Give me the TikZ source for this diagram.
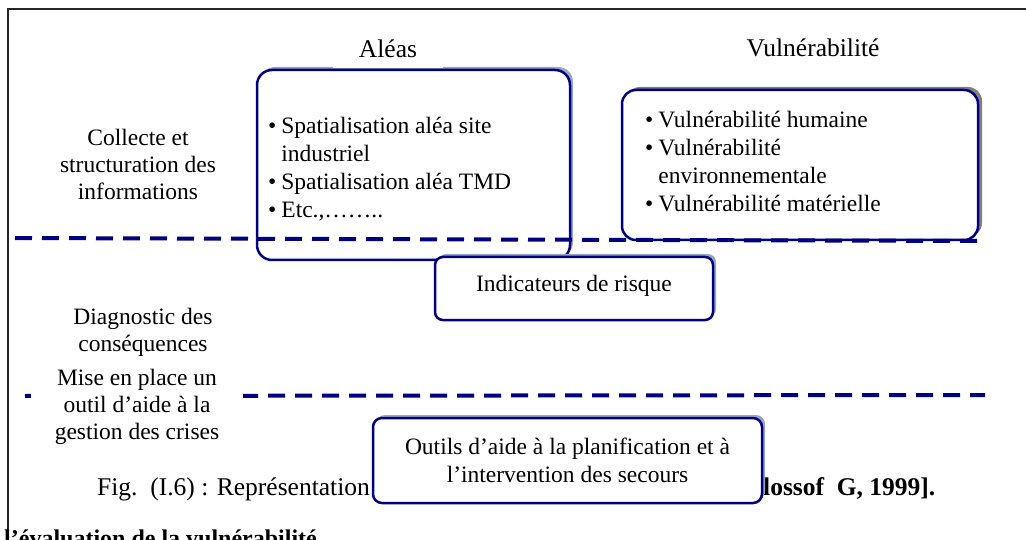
\documentclass[tikz,border=0pt]{standalone}
\usepackage{fontspec}
\setmainfont{Liberation Serif}
\usetikzlibrary{shadows}
\definecolor{navy}{RGB}{0,0,128}
\definecolor{shblue}{RGB}{152,167,190}
\definecolor{shgray}{RGB}{128,128,128}
\begin{document}
\begin{tikzpicture}[x=1pt,y=-1pt,
  box/.style={draw=navy, line width=2.5pt, fill=white, inner sep=0pt},
  shb/.style={general shadow={shadow xshift=3pt, shadow yshift=3pt, fill=shblue}},
  shg/.style={general shadow={shadow xshift=4pt, shadow yshift=3pt, fill=shgray}},
  body/.style={font=\fontsize{23.5}{28}\selectfont, inner sep=0pt},
  lbl/.style={font=\fontsize{23.5}{27}\selectfont, inner sep=0pt, align=center},
  head/.style={font=\fontsize{25.5}{30}\selectfont, inner sep=0pt},
  sepline/.style={draw=navy, line width=4pt, dash pattern=on 17pt off 10pt},
  frame/.style={draw=black!85, line width=1.5pt}
]
\useasboundingbox (0,0) rectangle (1026,540);
\fill[white] (0,0) rectangle (1026,540);
% frame
\coordinate (ftr) at (1040,9);
\coordinate (ftl) at (8,9);
\coordinate (fbl) at (8,545);
\draw[frame] (ftr) -- (ftl) -- (fbl);

% Aleas box
\node[box, shb, rounded corners=15pt, minimum width=313pt, minimum height=190pt] (aleasB) at (413.5,165) {};
\node[head, fill=white, minimum width=110pt, minimum height=40pt] (aleasT) at (388,48.3) {Aléas};
\node[body, anchor=west] (aleasL) at (268,170) {\begin{tabular}{@{}l@{\hspace{5pt}}l@{}}\textbullet & Spatialisation aléa site\\ & industriel\\ \textbullet & Spatialisation aléa TMD\\ \textbullet & Etc.,……..\end{tabular}};

% Vulnerabilite box
\node[box, shg, rounded corners=14pt, minimum width=356pt, minimum height=150pt] (vulnB) at (800,165) {};
\node[head] (vulnT) at (813,48.3) {Vulnérabilité};
\node[body, anchor=west] (vulnL) at (645,164) {\begin{tabular}{@{}l@{\hspace{5pt}}l@{}}\textbullet & Vulnérabilité humaine\\ \textbullet & Vulnérabilité\\ & environnementale\\ \textbullet & Vulnérabilité matérielle\end{tabular}};

% first separator
\coordinate (s1a) at (15,238);
\coordinate (s1b) at (980,241);
\draw[sepline] (s1a) -- (s1b);

% Indicateurs box
\node[box, shb, rounded corners=8pt, minimum width=278pt, minimum height=63pt, font=\fontsize{23.5}{28}\selectfont, text height=16pt, text depth=11pt] (indB) at (574,288.5) {Indicateurs de risque};

% left labels
\node[lbl] (collecte) at (138,164) {Collecte et\\structuration des\\informations};
\node[lbl] (diag) at (143,332) {Diagnostic des\\conséquences};

% second separator
\coordinate (s2a) at (25,396);
\coordinate (s2b) at (985,395);
\draw[sepline] (s2a) -- (s2b);
\node[lbl, fill=white, minimum width=212pt] (mise) at (137,407) {Mise en place un\\outil d’aide à la\\gestion des crises};

% caption parts
\node[head, anchor=base west] (capA) at (97,495) {Fig.\ \ (I.6) : Représentation};
\node[head, anchor=base west, font=\fontsize{25.5}{30}\selectfont\bfseries] (capB) at (763,495) {lossof\ \ G, 1999].};

% Outils box
\node[box, shb, rounded corners=9pt, minimum width=389pt, minimum height=85pt, align=center, font=\fontsize{23.5}{28}\selectfont] (outB) at (567.5,460.5) {Outils d’aide à la planification et à\\l’intervention des secours};

% bottom clipped heading
\node[anchor=base west, inner sep=0pt, font=\fontsize{24}{28}\selectfont\bfseries] (bottomT) at (4,546) {l’évaluation de la vulnérabilité};
\end{tikzpicture}
\end{document}
